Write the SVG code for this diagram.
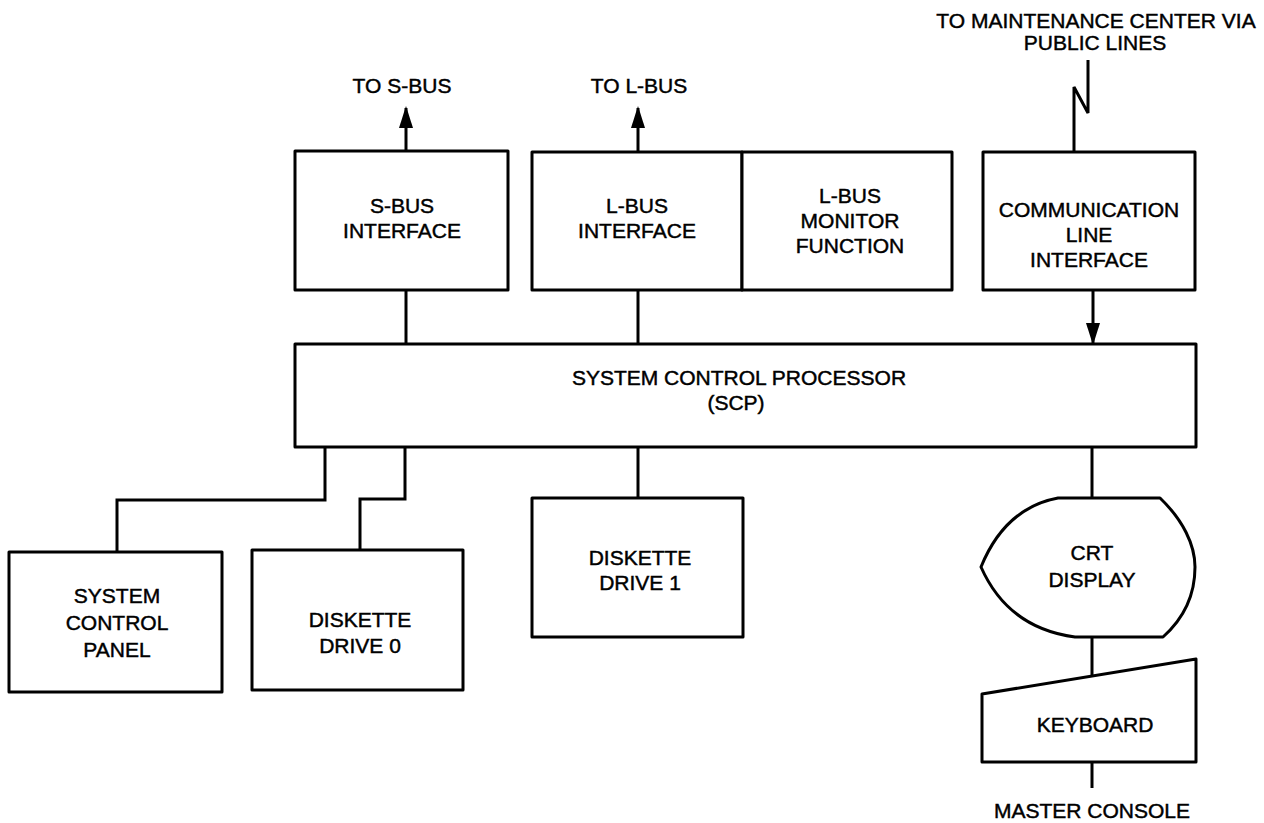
<svg xmlns="http://www.w3.org/2000/svg" width="1264" height="823" viewBox="0 0 1264 823">
<style>
.box{fill:#fff;stroke:#000;stroke-width:3;stroke-linejoin:round}
.ln{fill:none;stroke:#000;stroke-width:3;stroke-linejoin:miter}
text{font-family:"Liberation Sans",Arial,sans-serif;font-size:21px;fill:#000;stroke:#000;stroke-width:0.45;text-anchor:middle}
</style>
<defs>
<marker id="arr" markerUnits="userSpaceOnUse" markerWidth="22" markerHeight="14" refX="20" refY="7" orient="auto" viewBox="0 0 22 14">
<path d="M0,0 L22,7 L0,14 Z" fill="#000"/>
</marker>
</defs>
<rect width="1264" height="823" fill="#fff"/>
<g id="connectors">
<line class="ln" x1="406" y1="151" x2="406" y2="108" marker-end="url(#arr)"/>
<line class="ln" x1="638" y1="152" x2="638" y2="108" marker-end="url(#arr)"/>
<line class="ln" x1="406" y1="290" x2="406" y2="344"/>
<line class="ln" x1="638" y1="290" x2="638" y2="344"/>
<polyline class="ln" points="1074,152 1074,87 1088,113 1088,60"/>
<line class="ln" x1="1093" y1="290" x2="1093" y2="343" marker-end="url(#arr)"/>
<polyline class="ln" points="325,447 325,500 117,500 117,552"/>
<polyline class="ln" points="405,447 405,499 360,499 360,550"/>
<line class="ln" x1="638" y1="447" x2="638" y2="498"/>
<line class="ln" x1="1092" y1="446" x2="1092" y2="498"/>
<line class="ln" x1="1092" y1="637" x2="1092" y2="677"/>
<line class="ln" x1="1092" y1="762" x2="1092" y2="788"/>
</g>
<g id="label-sbus"><text x="402" y="93">TO S-BUS</text></g>
<g id="label-lbus"><text x="639" y="93">TO L-BUS</text></g>
<g id="label-maint"><text x="1096" y="28">TO MAINTENANCE CENTER VIA</text><text x="1095" y="50">PUBLIC LINES</text></g>
<g id="sbus-interface"><rect class="box" x="295" y="151" width="213" height="139"/><text x="402" y="213">S-BUS</text><text x="402" y="238">INTERFACE</text></g>
<g id="lbus-interface"><rect class="box" x="532" y="152" width="210" height="138"/><text x="637" y="213">L-BUS</text><text x="637" y="238">INTERFACE</text></g>
<g id="lbus-monitor"><rect class="box" x="742" y="152" width="210" height="138"/><text x="850" y="203">L-BUS</text><text x="850" y="228">MONITOR</text><text x="850" y="253">FUNCTION</text></g>
<g id="comm-interface"><rect class="box" x="983" y="152" width="212" height="138"/><text x="1089" y="217">COMMUNICATION</text><text x="1089" y="242">LINE</text><text x="1089" y="267">INTERFACE</text></g>
<g id="scp"><rect class="box" x="295" y="344" width="901" height="103"/><text x="739" y="385">SYSTEM CONTROL PROCESSOR</text><text x="736" y="410">(SCP)</text></g>
<g id="system-control-panel"><rect class="box" x="9" y="552" width="213" height="140"/><text x="117" y="603">SYSTEM</text><text x="117" y="630">CONTROL</text><text x="117" y="657">PANEL</text></g>
<g id="diskette-0"><rect class="box" x="252" y="550" width="211" height="140"/><text x="360" y="627">DISKETTE</text><text x="360" y="653">DRIVE 0</text></g>
<g id="diskette-1"><rect class="box" x="532" y="498" width="211" height="139"/><text x="640" y="565">DISKETTE</text><text x="640" y="590">DRIVE 1</text></g>
<g id="crt"><path class="box" d="M1058,498 L1160,498 C1183,520 1195,545 1195,567 C1195,597 1182,620 1163,637 L1075,637 Q1008,628 981,567 Q1005,508 1058,498 Z"/><text x="1092" y="560">CRT</text><text x="1092" y="587">DISPLAY</text></g>
<g id="keyboard"><path class="box" d="M982,694 L1196,659 L1196,762 L982,762 Z"/><text x="1095" y="732">KEYBOARD</text></g>
<g id="label-master"><text x="1092" y="818">MASTER CONSOLE</text></g>
</svg>
